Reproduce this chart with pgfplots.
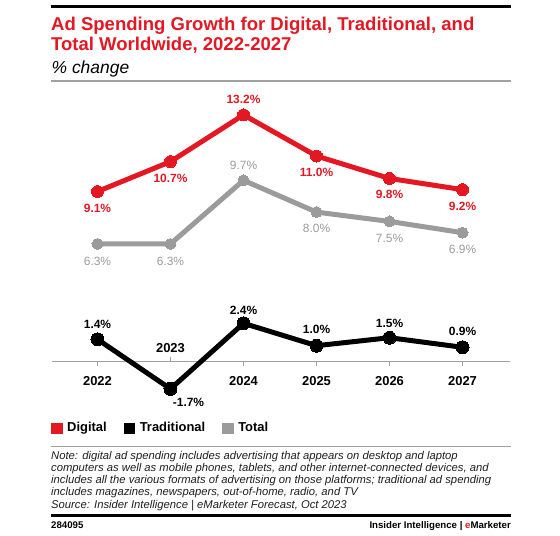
\documentclass[border=0pt]{standalone}
\usepackage{fontspec}
\setmainfont{Liberation Sans}
\usepackage{pgfplots}
\pgfplotsset{compat=1.18}
\usepackage{pgfplotstable}

\definecolor{emred}{RGB}{227,24,35}
\definecolor{emgray}{RGB}{155,155,155}
\definecolor{axisgray}{RGB}{160,160,160}
\definecolor{notegray}{RGB}{30,30,30}

% x = year index (0 = 2022), y = % change, dx/dy = label offset in px
\pgfplotstableread{
x y dx dy
0 9.1 0 -16.6
1 10.7 0 -16.7
2 13.2 0 15
3 11.0 0 -16
4 9.8 0 -16
5 9.2 0 -17
}\digital

\pgfplotstableread{
x y dx dy
0 6.3 0 -17
1 6.3 0 -17
2 9.7 0 15
3 8.0 0 -16
4 7.5 0 -16.6
5 6.9 0 -16.3
}\total

\pgfplotstableread{
x y dx dy
0 1.4 0 14.7
1 -1.7 18 -13.3
2 2.4 0 13.4
3 1.0 0 16
4 1.5 0 14
5 0.9 0 16
}\traditional

\pgfplotsset{
  emaxis/.style={
    scale only axis,
    width=458.3bp, height=317.9bp,
    xmin=-0.627, xmax=5.65,
    at={(51.7bp,-408.45bp)}, anchor=south west,
    clip=false,
    /pgf/number format/.cd, fixed, fixed zerofill, precision=1, assume math mode=true,
  },
  emline/.style={
    line width=5bp, line join=round, mark=*,
    mark options={line width=0pt},
    forget plot,
    nodes near coords={\pgfmathprintnumber{\pgfplotspointmeta}\%},
    nodes near coords align=center,
    visualization depends on={\thisrow{dx} \as \dx},
    visualization depends on={\thisrow{dy} \as \dy},
    every node near coord/.append style={xshift=\dx bp, yshift=\dy bp, inner sep=0pt},
  },
}

\begin{document}
\begin{tikzpicture}
\useasboundingbox (0bp,0bp) rectangle (560bp,-536bp);

% header
\draw[black, line width=2.7bp] (51bp,-6.7bp) -- (511bp,-6.7bp);
\node[anchor=base west, inner sep=0pt, text=emred, font=\bfseries\fontsize{18.6}{20}\selectfont]
  at (51bp,-30bp) {Ad Spending Growth for Digital, Traditional, and};
\node[anchor=base west, inner sep=0pt, text=emred, font=\bfseries\fontsize{18.6}{20}\selectfont]
  at (51bp,-50bp) {Total Worldwide, 2022-2027};
\node[anchor=base west, inner sep=0pt, font=\itshape\fontsize{17.5}{20}\selectfont]
  at (51.5bp,-73.5bp) {\% change};
\draw[axisgray, line width=1.3bp] (51bp,-81bp) -- (511bp,-81bp);

% digital and total
\begin{axis}[emaxis,
  ymin=-2.5, ymax=14.5,
  hide axis,
  legend style={at={(-0.0015,-0.0615)}, anchor=west, draw=none, fill=none,
    inner sep=0pt, legend columns=-1,
    font=\bfseries\fontsize{13}{13}\selectfont,
    nodes={inner sep=0pt},
    /tikz/every odd column/.append style={column sep=5bp},
    /tikz/every even column/.append style={column sep=17bp}},
  legend image code/.code={\fill[#1] (0bp,-5.3bp) rectangle (10.6bp,5.3bp);},
]
\addlegendimage{emred}\addlegendentry{Digital}
\addlegendimage{black}\addlegendentry{Traditional}
\addlegendimage{emgray}\addlegendentry{Total}

\addplot[emline, color=emgray, mark size=5.5bp,
  every node near coord/.append style={text=emgray, font=\fontsize{12}{12}\selectfont}]
  table[x=x, y=y] {\total};
\addplot[emline, color=emred, mark size=6bp,
  every node near coord/.append style={text=emred, font=\bfseries\fontsize{12}{12}\selectfont}]
  table[x=x, y=y] {\digital};
\end{axis}

% traditional, with the zero line and the year ticks
\begin{axis}[emaxis,
  ymin=-2.922, ymax=16.947,
  axis x line=middle, axis y line=none,
  x axis line style={-, axisgray, line width=1.3bp},
  ytick=\empty,
  xtick={0,2,3,4,5},
  xticklabels={2022,2024,2025,2026,2027},
  extra x ticks={1},
  extra x tick labels={2023},
  tick style={axisgray, line width=1bp},
  major tick length=4.5bp,
  tick align=outside,
  xticklabel style={anchor=center, yshift=-15bp, inner sep=0pt,
    font=\bfseries\fontsize{13}{13}\selectfont},
  extra x tick style={tick align=inside,
    xticklabel style={yshift=28.7bp}},
]
\addplot[emline, color=black, mark size=6.5bp,
  every node near coord/.append style={text=black, font=\bfseries\fontsize{12}{12}\selectfont}]
  table[x=x, y=y] {\traditional};
\end{axis}

% notes and footer
\draw[axisgray, line width=1.3bp] (51bp,-446.7bp) -- (511bp,-446.7bp);
\begin{scope}[every node/.style={anchor=base west, inner sep=0pt, text=notegray,
    font=\itshape\fontsize{11.3}{12}\selectfont}]
\node at (51bp,-459.6bp) {Note: digital ad spending includes advertising that appears on desktop and laptop};
\node at (51bp,-471.7bp) {computers as well as mobile phones, tablets, and other internet-connected devices, and};
\node at (51bp,-483.8bp) {includes all the various formats of advertising on those platforms; traditional ad spending};
\node at (51bp,-495.9bp) {includes magazines, newspapers, out-of-home, radio, and TV};
\node at (51bp,-508bp) {Source: Insider Intelligence | eMarketer Forecast, Oct 2023};
\end{scope}
\draw[black, line width=3bp] (51bp,-515bp) -- (511bp,-515bp);
\node[anchor=base west, inner sep=0pt, font=\bfseries\fontsize{9.7}{10}\selectfont]
  at (51bp,-528.5bp) {284095};
\node[anchor=base east, inner sep=0pt, font=\bfseries\fontsize{9.7}{10}\selectfont]
  at (511bp,-528.5bp) {Insider Intelligence | \textcolor{emred}{e}Marketer};
\end{tikzpicture}
\end{document}
